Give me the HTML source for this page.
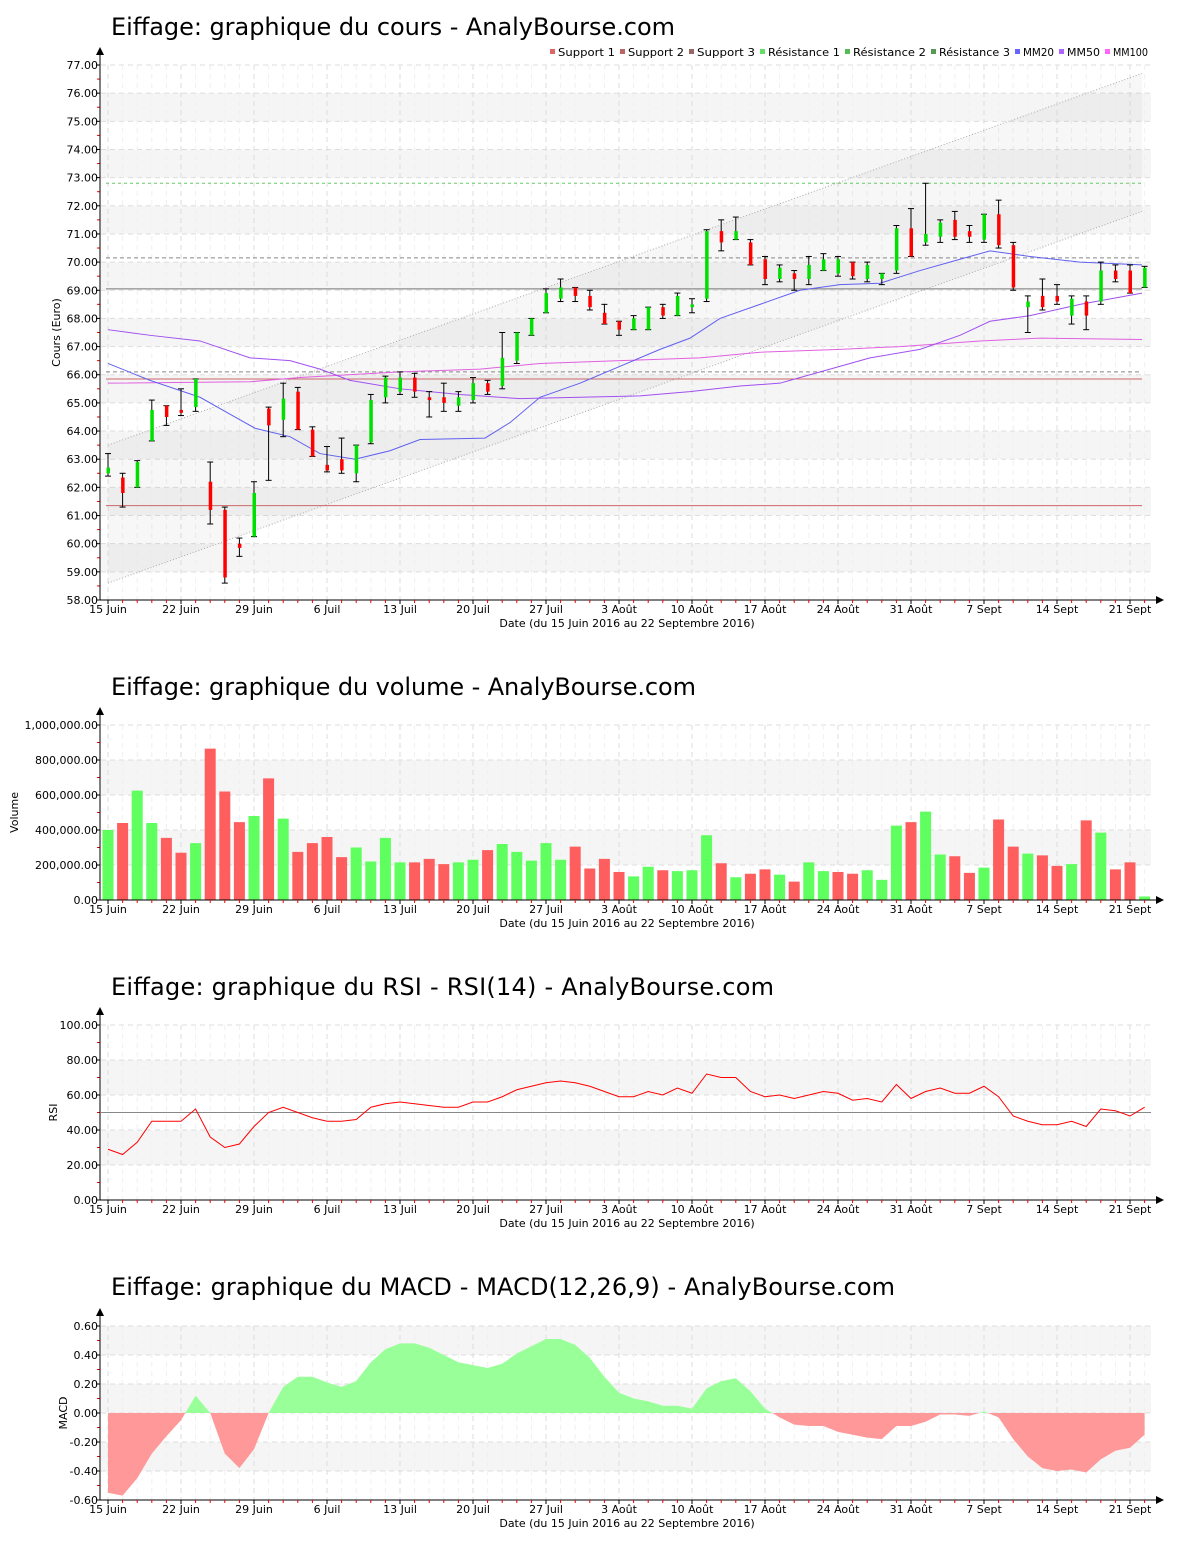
<!DOCTYPE html>
<html><head><meta charset="utf-8"><style>
body{margin:0;background:#fff;}
svg{display:block;font-family:"DejaVu Sans","Liberation Sans",sans-serif;}
</style></head><body>
<svg id="s" width="1200" height="1550" xmlns="http://www.w3.org/2000/svg"></svg>
<script>
const S=document.getElementById('s');let h='';
const X=i=>108+i*14.6;
const ticks=['15 Juin','22 Juin','29 Juin','6 Juil','13 Juil','20 Juil','27 Juil','3 Août','10 Août','17 Août','24 Août','31 Août','7 Sept','14 Sept','21 Sept'];
function frame(top,bot,title,ty,yl,ylx,labels,Y,bands,tw){
 h+=`<text x="111" y="${ty}" font-size="24" fill="#000"${tw?` textLength="${tw}"`:''}>${title}</text>`;
 bands.forEach(b=>{h+=`<rect x="101" y="${Y(b[1])}" width="1050" height="${Y(b[0])-Y(b[1])}" fill="#f5f5f5"/>`;});
 labels.forEach(l=>{const y=Y(l[0]);h+=`<line x1="101" x2="1151" y1="${y}" y2="${y}" stroke="#ddd" stroke-dasharray="5,4"/>`;
  h+=`<text x="98" y="${y+4}" font-size="11" text-anchor="end">${l[1]}</text><line x1="96" x2="100" y1="${y}" y2="${y}" stroke="#000"/>`;});
 for(let k=0;k<labels.length-1;k++){const y=(Y(labels[k][0])+Y(labels[k+1][0]))/2;h+=`<line x1="97" x2="100" y1="${y}" y2="${y}" stroke="#e00"/>`;}
 for(let i=0;i<72;i++){const x=X(i);if(i%5==0){h+=`<line x1="${x}" x2="${x}" y1="${top}" y2="${bot}" stroke="#ddd" stroke-dasharray="5,4"/>`;}
  else h+=`<line x1="${x}" x2="${x}" y1="${top}" y2="${bot}" stroke="#f0f0f0" stroke-dasharray="5,4"/>`;}
 h+=`<text transform="translate(${ylx},${(top+bot)/2}) rotate(-90)" font-size="11" text-anchor="middle">${yl}</text>`;
 h+=`<text x="627" y="${bot+27}" font-size="11" text-anchor="middle">Date (du 15 Juin 2016 au 22 Septembre 2016)</text>`;
}
function axes(top,bot){
 h+=`<line x1="100" x2="100" y1="${top-12}" y2="${bot}" stroke="#000"/><path d="M96,${top-10} L100,${top-18} L104,${top-10}Z"/>`;
 h+=`<line x1="100" x2="1158" y1="${bot}" y2="${bot}" stroke="#000"/><path d="M1156,${bot-4} L1164,${bot} L1156,${bot+4}Z"/>`;
 ticks.forEach((t,k)=>{const x=X(k*5);h+=`<line x1="${x}" x2="${x}" y1="${bot}" y2="${bot+4}" stroke="#000"/><text x="${x}" y="${bot+13}" font-size="11" text-anchor="middle">${t}</text>`;});
 for(let i=0;i<72;i++) if(i%5) h+=`<line x1="${X(i)}" x2="${X(i)}" y1="${bot}" y2="${bot+3}" stroke="#e00"/>`;
}
// PRICE
const PY=v=>600-(v-58)*28.158;
let lab=[],bands=[];for(let v=58;v<=77;v++){lab.push([v,v.toFixed(2)]);if(v%2==1&&v<76)bands.push([v,v+1]);}
frame(65,600,'Eiffage: graphique du cours - AnalyBourse.com',35,'Cours (Euro)',60,lab,PY,bands,564);
h+=`<polygon points="${X(0)},${PY(63.5)} 1142,${PY(76.7)} 1142,${PY(71.8)} ${X(0)},${PY(58.6)}" fill="#888" fill-opacity="0.07"/>`;
h+=`<line x1="${X(0)}" y1="${PY(63.5)}" x2="1142" y2="${PY(76.7)}" stroke="#aaa" stroke-dasharray="1,2"/><line x1="${X(0)}" y1="${PY(58.6)}" x2="1142" y2="${PY(71.8)}" stroke="#aaa" stroke-dasharray="1,2"/>`;
[[61.35,'#c66',''],[65.85,'#c66',''],[66.1,'#888','4,3'],[69.05,'#777',''],[70.15,'#888','4,3'],[72.8,'#6c6','3,3']].forEach(l=>{h+=`<line x1="106" x2="1142" y1="${PY(l[0])}" y2="${PY(l[0])}" stroke="${l[1]}" stroke-dasharray="${l[2]}"/>`;});
function line(pts,c){h+=`<polyline fill="none" stroke="${c}" points="${pts.map(p=>p[0]+','+PY(p[1])).join(' ')}"/>`;}
line([[108,65.7],[250,65.75],[300,65.9],[400,66.1],[480,66.2],[540,66.4],[620,66.5],[700,66.6],[760,66.8],[840,66.9],[900,67.0],[980,67.2],[1040,67.3],[1142,67.25]],'#e060e0');
line([[108,67.6],[150,67.4],[200,67.2],[250,66.6],[290,66.5],[320,66.2],[350,65.8],[400,65.5],[460,65.3],[520,65.15],[580,65.2],[640,65.25],[690,65.4],[740,65.6],[780,65.7],[830,66.2],[870,66.6],[920,66.9],[960,67.4],[990,67.9],[1030,68.1],[1080,68.5],[1142,68.9]],'#a050f0');
line([[108,66.4],[150,65.8],[200,65.2],[230,64.6],[255,64.1],[290,63.8],[320,63.2],[355,63.0],[390,63.3],[420,63.7],[485,63.75],[510,64.3],[540,65.2],[580,65.7],[620,66.3],[660,66.9],[690,67.3],[720,68.0],[760,68.5],[800,69.0],[840,69.2],[880,69.25],[920,69.7],[960,70.1],[990,70.4],[1030,70.2],[1080,70.0],[1142,69.9]],'#6060f0');
const C=[[62.5,62.7,63.2,62.4],[62.35,61.8,62.5,61.3],[62,62.9,62.95,62],[63.65,64.75,65.1,63.65],[64.9,64.5,64.9,64.2],[64.75,64.65,65.5,64.55],[64.85,65.85,65.85,64.7],[62.2,61.2,62.9,60.7],[61.2,58.8,61.3,58.6],[60,59.85,60.2,59.55],[60.25,61.8,62.2,60.25],[64.8,64.2,64.85,62.25],[64.4,65.15,65.7,63.8],[65.4,64.05,65.55,64.05],[64.05,63.1,64.15,63.1],[62.8,62.6,63.45,62.55],[63,62.6,63.75,62.5],[62.5,63.5,63.5,62.2],[63.6,65.1,65.3,63.55],[65.2,65.9,65.95,65],[65.4,65.9,66.1,65.3],[65.9,65.4,66.05,65.2],[65.2,65.1,65.4,64.5],[65.2,65,65.7,64.7],[64.9,65.2,65.4,64.7],[65.1,65.7,65.9,65],[65.7,65.4,65.8,65.3],[65.6,66.6,67.5,65.5],[66.5,67.5,67.5,66.4],[67.4,68,68,67.4],[68.2,68.9,69.05,68.2],[68.7,69.1,69.4,68.6],[69.1,68.8,69.1,68.6],[68.8,68.4,69,68.3],[68.2,67.8,68.5,67.8],[67.9,67.6,67.9,67.4],[67.6,68,68.1,67.6],[67.6,68.4,68.4,67.6],[68.4,68.1,68.5,68],[68.1,68.8,68.9,68.1],[68.4,68.5,68.7,68.2],[68.7,71.1,71.15,68.6],[71.1,70.7,71.5,70.4],[70.8,71.1,71.6,70.8],[70.7,69.9,70.8,69.9],[70.1,69.4,70.2,69.2],[69.4,69.8,69.9,69.3],[69.6,69.4,69.7,69],[69.4,69.9,70.2,69.2],[69.7,70.1,70.3,69.7],[69.6,70.1,70.2,69.5],[70,69.5,70,69.4],[69.4,69.9,70,69.3],[69.4,69.6,69.6,69.2],[69.7,71.2,71.3,69.6],[71.2,70.2,71.9,70.2],[70.7,71,72.8,70.6],[70.9,71.4,71.5,70.7],[71.5,70.9,71.8,70.8],[71.1,70.9,71.3,70.7],[70.8,71.7,71.7,70.7],[71.7,70.6,72.2,70.5],[70.6,69.1,70.7,69],[68.4,68.6,68.8,67.5],[68.8,68.4,69.4,68.3],[68.8,68.6,69.2,68.5],[68.1,68.7,68.8,67.8],[68.6,68.1,68.8,67.6],[68.6,69.7,70,68.5],[69.7,69.4,69.9,69.3],[69.7,68.9,69.9,68.9],[69.1,69.8,69.85,69.1]];
C.forEach((c,i)=>{const x=X(i),up=c[1]>=c[0];const hi=PY(c[2]),lo=PY(c[3]);
 h+=`<line x1="${x}" x2="${x}" y1="${hi}" y2="${lo}" stroke="#000"/><line x1="${x-3}" x2="${x+3}" y1="${hi}" y2="${hi}" stroke="#000"/><line x1="${x-3}" x2="${x+3}" y1="${lo}" y2="${lo}" stroke="#000"/>`;
 const t=PY(Math.max(c[0],c[1])),b=PY(Math.min(c[0],c[1]));h+=`<rect x="${x-1.5}" y="${t}" width="3.5" height="${Math.max(2,b-t)}" fill="${up?'#00e000':'#f00'}"/>`;});
axes(65,600);
const leg=[['#d66','Support 1',550],['#b66','Support 2',620],['#966','Support 3',689],['#6d6','Résistance 1',760],['#5b5','Résistance 2',845],['#595','Résistance 3',931],['#66f','MM20',1015],['#a6f','MM50',1059],['#f6f','MM100',1105]];
const nx=[620,689,760,845,931,1015,1059,1105,1153];
leg.forEach((l,k)=>{const w=nx[k]-l[2]-13;h+=`<rect x="${l[2]}" y="49" width="5" height="5" fill="${l[0]}"/><text x="${l[2]+8}" y="56" font-size="11" textLength="${w}" lengthAdjust="spacingAndGlyphs">${l[1]}</text>`;});
// VOLUME
const VY=v=>900-v*0.175;
lab=[];for(let v=0;v<=1000;v+=200)lab.push([v,(v?v.toLocaleString('en-US')+',000.00':'0.00')]);
frame(725,900,'Eiffage: graphique du volume - AnalyBourse.com',695,'Volume',18,lab,VY,[[200,400],[600,800]],585);
const V="400g440r625g440g355r270r325g865r620r445r480g695r465g275r325r360r245r300g220g355g215g215r235r205r215g230g285r320g275g225g325g230g305r180r235r160r135g190g170r165g170g370g210r130g150r175r145g105r215g165g160r150r170g115g425g445r505g260g250r155r185g460r305r265g255r195r205g455r385g175r215r20g".match(/\d+[rg]/g);
V.forEach((s,i)=>{const v=parseInt(s),c=s.slice(-1)=='g'?'#5f5':'#f55';h+=`<rect x="${X(i)-5.5}" y="${VY(v)}" width="11" height="${900-VY(v)}" fill="${c}" fill-opacity="0.95"/>`;});
axes(725,900);
// RSI
const RY=v=>1200-v*1.75;
lab=[];for(let v=0;v<=100;v+=20)lab.push([v,v.toFixed(2)]);
frame(1025,1200,'Eiffage: graphique du RSI - RSI(14) - AnalyBourse.com',995,'RSI',57,lab,RY,[[20,40],[60,80]],663);
h+=`<line x1="101" x2="1151" y1="${RY(50)}" y2="${RY(50)}" stroke="#888"/>`;
const R=[29,26,33,45,45,45,52,36,30,32,42,50,53,50,47,45,45,46,53,55,56,55,54,53,53,56,56,59,63,65,67,68,67,65,62,59,59,62,60,64,61,72,70,70,62,59,60,58,60,62,61,57,58,56,66,58,62,64,61,61,65,59,48,45,43,43,45,42,52,51,48,53];
h+=`<polyline fill="none" stroke="#f00" points="${R.map((v,i)=>X(i)+','+RY(v)).join(' ')}"/>`;
axes(1025,1200);
// MACD
const MY=v=>1413-v*145;
lab=[];for(let v=-6;v<=6;v+=2)lab.push([v/10,(v/10).toFixed(2)]);
frame(1326,1500,'Eiffage: graphique du MACD - MACD(12,26,9) - AnalyBourse.com',1295,'MACD',67,lab,MY,[[-0.4,-0.2],[0,0.2],[0.4,0.6]],784);
const M=[-0.55,-0.57,-0.45,-0.28,-0.16,-0.05,0.12,0,-0.28,-0.38,-0.25,0,0.18,0.25,0.25,0.21,0.18,0.22,0.35,0.44,0.48,0.48,0.45,0.4,0.35,0.33,0.31,0.34,0.41,0.46,0.51,0.51,0.47,0.38,0.25,0.14,0.1,0.08,0.05,0.05,0.03,0.17,0.22,0.24,0.15,0.03,-0.03,-0.08,-0.09,-0.09,-0.13,-0.15,-0.17,-0.18,-0.09,-0.09,-0.06,-0.01,-0.01,-0.02,0.01,-0.03,-0.18,-0.3,-0.38,-0.4,-0.39,-0.41,-0.32,-0.26,-0.24,-0.15];
const poly=`${X(0)},1413 ${M.map((v,i)=>X(i)+','+MY(v)).join(' ')} ${X(71)},1413`;
h+=`<defs><clipPath id="up"><rect x="100" y="1300" width="1060" height="113"/></clipPath><clipPath id="dn"><rect x="100" y="1413" width="1060" height="100"/></clipPath></defs>`;
h+=`<polygon points="${poly}" fill="#99ff99" clip-path="url(#up)"/><polygon points="${poly}" fill="#ff9999" clip-path="url(#dn)"/>`;
axes(1326,1500);
S.innerHTML=h;
</script>
</body></html>
